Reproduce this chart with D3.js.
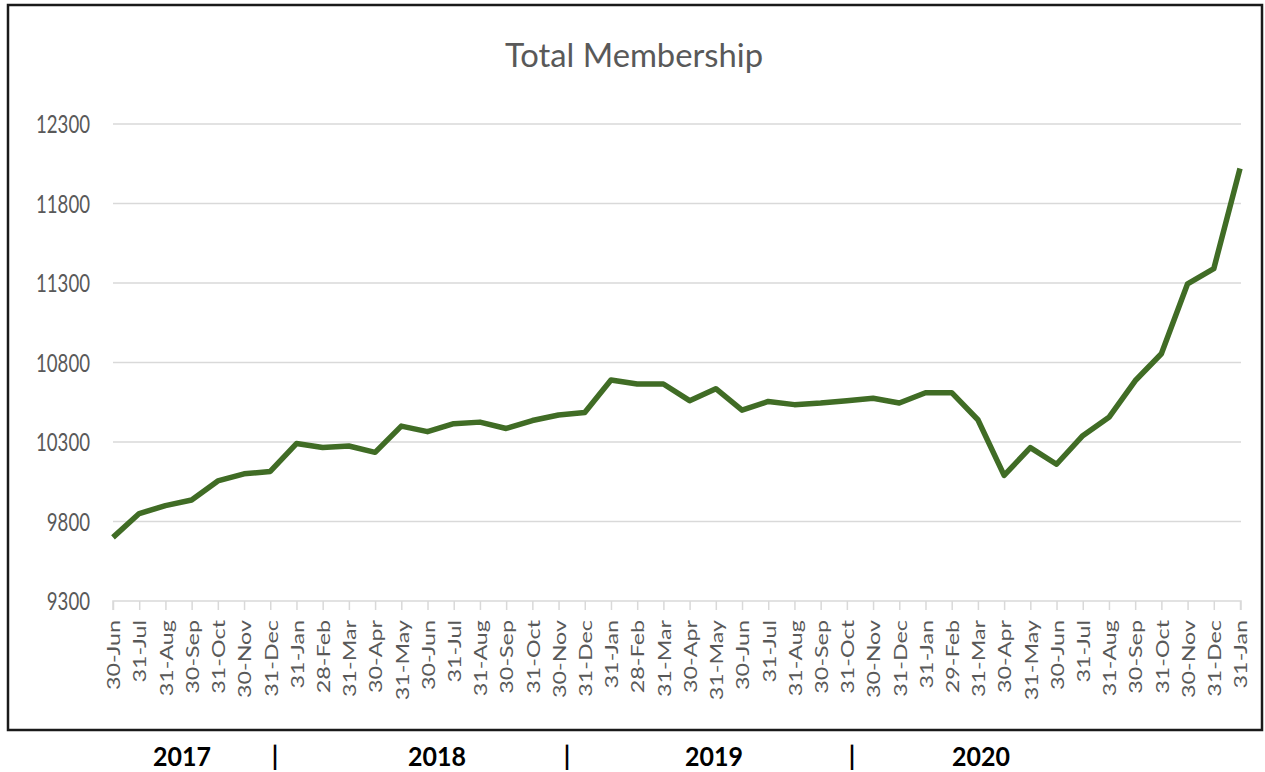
<!DOCTYPE html>
<html>
<head>
<meta charset="utf-8">
<script src="https://cdn.jsdelivr.net/npm/d3@7/dist/d3.min.js"></script>
<style>
  html, body { margin: 0; padding: 0; background: #ffffff; }
  svg { display: block; }
</style>
</head>
<body>
<svg id="chart" width="1265" height="772"></svg>
<script>
// ---------------- data ----------------
const title = "Total Membership";
const dateLabels = [
  "30-Jun","31-Jul","31-Aug","30-Sep","31-Oct","30-Nov","31-Dec",
  "31-Jan","28-Feb","31-Mar","30-Apr","31-May","30-Jun","31-Jul","31-Aug","30-Sep","31-Oct","30-Nov","31-Dec",
  "31-Jan","28-Feb","31-Mar","30-Apr","31-May","30-Jun","31-Jul","31-Aug","30-Sep","31-Oct","30-Nov","31-Dec",
  "31-Jan","29-Feb","31-Mar","30-Apr","31-May","30-Jun","31-Jul","31-Aug","30-Sep","31-Oct","30-Nov","31-Dec",
  "31-Jan"
];
const membership = [
  9700, 9850, 9900, 9935, 10055, 10100, 10115,
  10290, 10265, 10275, 10235, 10400, 10365, 10415, 10425, 10385, 10435, 10470, 10485,
  10690, 10665, 10665, 10560, 10635, 10500, 10555, 10535, 10545, 10560, 10575, 10545,
  10610, 10610, 10440, 10090, 10265, 10160, 10340, 10455, 10685, 10855, 11295, 11390,
  12020
];
const yTicks = [9300, 9800, 10300, 10800, 11300, 11800, 12300];
const yearLabels = ["2017", "|", "2018", "|", "2019", "|", "2020"];
const yearCenters = [182, 275, 437, 567, 714, 852, 981];

// ---------------- layout ----------------
const W = 1265, H = 772;
const svg = d3.select("#chart");
const FONT = "Lato, 'Open Sans', 'DejaVu Sans', sans-serif";
const CAP = 0.7165; // Lato cap-height ratio

svg.append("rect").attr("x", 0).attr("y", 0).attr("width", W).attr("height", H).attr("fill", "#ffffff");

// outer chart frame
svg.append("rect")
  .attr("x", 8).attr("y", 5).attr("width", 1254).attr("height", 725)
  .attr("fill", "none").attr("stroke", "#1a1a1a").attr("stroke-width", 2.5);

const x = d3.scalePoint().domain(d3.range(dateLabels.length)).range([113, 1240]);
const y = d3.scaleLinear().domain([9300, 12300]).range([601, 124]);

// helper: measure a reference string to fit a target length
function measure(str, size, weight) {
  const t = svg.append("text").attr("font-family", FONT).attr("font-size", size)
    .attr("font-weight", weight || "normal").text(str);
  const w = t.node().getComputedTextLength();
  t.remove();
  return w;
}

// gridlines
const grid = svg.append("g");
grid.selectAll("line").data(yTicks.slice(1)).join("line")
  .attr("x1", 113).attr("x2", 1241)
  .attr("y1", d => y(d)).attr("y2", d => y(d))
  .attr("stroke", "#d9d9d9").attr("stroke-width", 1.5);

// x axis using d3.axisBottom
const xAxis = d3.axisBottom(x).tickSize(9).tickFormat("");
const gx = svg.append("g").attr("transform", `translate(0,${y(9300)})`).call(xAxis);
gx.select(".domain").attr("stroke", "#d9d9d9").attr("stroke-width", 1.5)
  .attr("d", `M113,9V0H1241V9`);
gx.selectAll(".tick line").attr("stroke", "#d9d9d9").attr("stroke-width", 1.5);

// y labels
const ySize = 20;
const ySx = 54 / measure("12300", ySize);
const ySy = 18.5 / (CAP * ySize);
svg.append("g").selectAll("g").data(yTicks).join("g")
  .attr("transform", d => `translate(90,${y(d)}) scale(${ySx},${ySy})`)
  .append("text")
  .attr("text-anchor", "end").attr("dy", "0.36em")
  .attr("font-family", FONT).attr("font-size", ySize).attr("fill", "#595959")
  .text(d => d);

// x labels (rotated)
const xSize = 12.5 / CAP;
const xSy = 70 / measure("30-Jun", xSize);
svg.append("g").selectAll("g").data(dateLabels).join("g")
  .attr("transform", (d, i) => `translate(${x(i) + 1},620) scale(1,${xSy}) rotate(-90)`)
  .append("text")
  .attr("text-anchor", "end").attr("dy", "0.36em")
  .attr("font-family", FONT).attr("font-size", xSize).attr("fill", "#595959")
  .text(d => d);

// line
const line = d3.line().x((d, i) => x(i)).y(d => y(d));
svg.append("path").datum(membership)
  .attr("d", line)
  .attr("fill", "none").attr("stroke", "#406c25").attr("stroke-width", 5.5)
  .attr("stroke-linejoin", "round").attr("stroke-linecap", "butt");

// title
const tSize = 24 / CAP;
const tSx = 258 / measure(title, tSize);
svg.append("g").attr("transform", `translate(634,66.7) scale(${tSx},1)`)
  .append("text").attr("text-anchor", "middle")
  .attr("font-family", FONT).attr("font-size", tSize).attr("fill", "#595959")
  .text(title);

// year labels under the frame
const ySizeB = 22;
const bSx = 58 / measure("2017", ySizeB, "bold");
const bSy = 19 / (CAP * ySizeB);
svg.append("g").selectAll("g").data(yearLabels).join("g")
  .attr("transform", (d, i) => `translate(${yearCenters[i]},765.5) scale(${bSx},${bSy})`)
  .append("text").attr("text-anchor", "middle")
  .attr("font-family", FONT).attr("font-size", ySizeB).attr("font-weight", "bold").attr("fill", "#000000")
  .text(d => d);
</script>
</body>
</html>
